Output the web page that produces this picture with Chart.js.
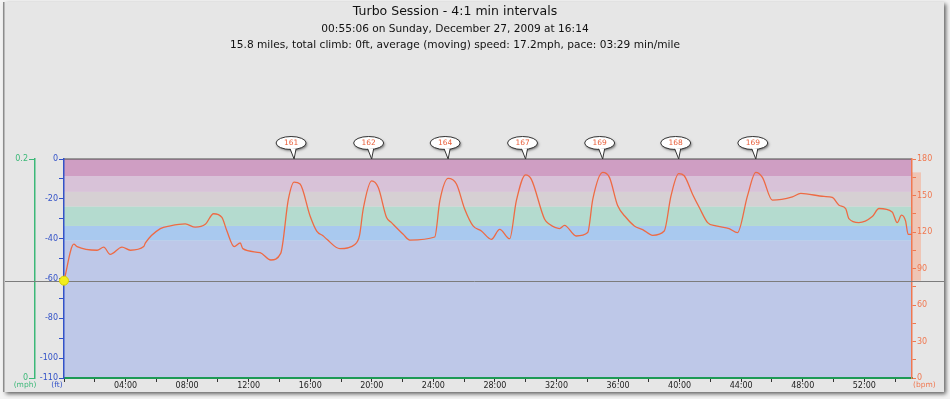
<!DOCTYPE html>
<html><head><meta charset="utf-8">
<script src="https://cdn.jsdelivr.net/npm/chart.js@4.4.1/dist/chart.umd.min.js"></script>
<style>html,body{margin:0;padding:0;background:#f3f3f3;overflow:hidden}#wrap{position:relative;width:950px;height:399px}</style>
</head><body><div id="wrap"><canvas id="c" width="950" height="399"></canvas></div>
<script>
const titleLines = [
  "Turbo Session - 4:1 min intervals",
  "00:55:06 on Sunday, December 27, 2009 at 16:14",
  "15.8 miles, total climb: 0ft, average (moving) speed: 17.2mph, pace: 03:29 min/mile"
];
const unitLabels = ["(mph)", "(ft)", "(bpm)"];
const minutes = [0,0.64,0.85,2.15,2.58,3.0,3.77,4.31,5.18,5.29,6.26,6.91,7.88,8.53,9.18,9.72,10.26,10.58,11.06,11.45,11.62,12.74,13.44,14.08,14.58,14.95,15.34,15.99,16.42,16.85,17.08,17.93,18.9,19.2,19.44,19.99,20.42,20.96,21.28,22.04,22.47,24.09,24.42,24.96,25.5,26.04,26.58,27.12,27.77,28.31,28.96,29.39,29.99,30.36,31.23,31.55,32.2,32.52,33.28,34.03,34.36,35.0,35.44,35.98,36.52,37.06,37.6,38.25,39.0,39.44,39.94,40.3,40.84,41.28,41.82,42.36,43.22,43.76,44.41,44.95,45.38,46.03,47.33,47.87,49.38,49.92,50.36,50.79,51.0,51.65,52.52,52.95,53.81,54.14,54.42,54.68,54.85,55.1];
const heartRate = [80,110,108,105,107.6,101.6,107.6,105,108,111,122.8,125,126.6,124,126.3,135,132,121,108,111,106.3,103,97,102.4,147,161,159.4,133.2,120.8,116.7,114,106.3,109.8,117,138.7,162,156.6,131.9,127.7,118.1,113.4,115.9,145.6,164,159.4,138.7,125,120.8,114,122.2,114.5,145.6,167,163.5,130.5,126.3,122.8,125.5,116.7,119.5,147,169,164.9,141.5,131.9,125,122,117.3,120.8,149.7,168,166.2,151.1,140.1,127.7,125,122.8,119.5,149.7,169,164.9,146.2,148.9,151.7,149.2,148.4,142,139.3,131,127.7,132.7,139.3,136.5,127.7,133.8,129.1,118.1,118.1];
const peakMinutes = [14.95,19.99,24.96,29.99,35.0,39.94,44.95];
const peakLabels = ["161","162","164","167","169","168","169"];
const zoneBounds = [0,113,125,141,153,166,180];
const zoneColors = ["#bec8e8","#a9c9ef","#b4dbcf","#d6d0d3","#d8c2d8","#cf9ec3"];
const durationMin = 55.1;

const FONT = "DejaVu Sans";
const C_FT = "#3352c8", C_MPH = "#3cb878", C_BPM = "#f07850", C_LINE = "#ee6a44";

function fixW(w){ return s => { s.width = w; }; }
function fixH(h){ return s => { s.height = h; }; }

const decor = {
  id: 'decor',
  beforeDraw(chart){
    const {ctx, chartArea:a, scales} = chart;
    const W = chart.width, H = chart.height;
    ctx.save();
    ctx.fillStyle = '#f3f3f3'; ctx.fillRect(0,0,W,H);
    ctx.shadowColor = 'rgba(0,0,0,0.6)'; ctx.shadowBlur = 4; ctx.shadowOffsetX = 2; ctx.shadowOffsetY = 2;
    ctx.fillStyle = '#e6e6e6'; ctx.fillRect(4,2,W-10,H-9);
    ctx.shadowColor = 'transparent'; ctx.shadowBlur = 0; ctx.shadowOffsetX = 0; ctx.shadowOffsetY = 0;
    ctx.fillStyle = '#8c8c8c'; ctx.fillRect(3,2,1.5,H-9);
    const yb = scales.bpm;
    for (let i = 0; i < zoneColors.length; i++){
      const top = yb.getPixelForValue(zoneBounds[i+1]);
      const bot = yb.getPixelForValue(zoneBounds[i]);
      ctx.fillStyle = zoneColors[i];
      ctx.fillRect(a.left, top, a.right - a.left, bot - top);
    }
    ctx.strokeStyle = '#4a4a4a'; ctx.lineWidth = 1.2;
    ctx.beginPath(); ctx.moveTo(a.left, a.top); ctx.lineTo(a.right, a.top); ctx.stroke();
    const mn = Math.min(...heartRate), mx = Math.max(...heartRate);
    ctx.fillStyle = 'rgba(246,170,140,0.55)';
    ctx.fillRect(a.right, yb.getPixelForValue(mx), 9, yb.getPixelForValue(mn) - yb.getPixelForValue(mx));
    ctx.fillStyle = '#111'; ctx.textAlign = 'center'; ctx.textBaseline = 'middle';
    const cx = 455;
    ctx.font = '12.5px "' + FONT + '"'; ctx.fillText(titleLines[0], cx, 12);
    ctx.font = '10.6px "' + FONT + '"'; ctx.fillText(titleLines[1], cx, 29); ctx.fillText(titleLines[2], cx, 45);
    ctx.restore();
  },
  beforeDatasetsDraw(chart){
    const {ctx, scales} = chart;
    const y0 = scales.bpm.getPixelForValue(heartRate[0]);
    ctx.save();
    ctx.strokeStyle = '#7c7c7c'; ctx.lineWidth = 1;
    ctx.beginPath(); ctx.moveTo(5, Math.round(y0)+0.5); ctx.lineTo(chart.width-6, Math.round(y0)+0.5); ctx.stroke();
    ctx.restore();
  },
  afterDraw(chart){
    const {ctx, chartArea:a, scales} = chart;
    ctx.save();
    for (let i = 0; i < peakMinutes.length; i++){
      const px = scales.x.getPixelForValue(peakMinutes[i]);
      const cx = px - 3, cy = a.top - 16;
      ctx.shadowColor = 'rgba(0,0,0,0.5)'; ctx.shadowBlur = 2.5; ctx.shadowOffsetX = 1; ctx.shadowOffsetY = 1.5;
      ctx.fillStyle = '#ffffff'; ctx.strokeStyle = '#333';
      ctx.lineWidth = 1;
      ctx.beginPath();
      ctx.ellipse(cx, cy, 15, 6.5, 0, 0, Math.PI*2);
      ctx.fill();
      ctx.shadowColor = 'transparent';
      ctx.stroke();
      ctx.beginPath();
      ctx.moveTo(px - 4, cy + 5.5); ctx.lineTo(px, a.top); ctx.lineTo(px + 2, cy + 5.5);
      ctx.closePath();
      ctx.fill();
      ctx.beginPath();
      ctx.moveTo(px - 4, cy + 5.8); ctx.lineTo(px, a.top); ctx.lineTo(px + 2, cy + 5.8);
      ctx.stroke();
      ctx.fillStyle = '#e8603c'; ctx.font = '7.5px "' + FONT + '"';
      ctx.textAlign = 'center'; ctx.textBaseline = 'middle';
      ctx.fillText(peakLabels[i], cx, cy);
    }
    ctx.font = '7.5px "' + FONT + '"'; ctx.textBaseline = 'middle'; ctx.textAlign = 'center';
    const yl = a.bottom + 7;
    ctx.fillStyle = C_MPH; ctx.fillText(unitLabels[0], scales.mph.right - 10, yl);
    ctx.fillStyle = C_FT; ctx.fillText(unitLabels[1], scales.ft.right - 7, yl);
    ctx.fillStyle = C_BPM; ctx.textAlign = 'left'; ctx.fillText(unitLabels[2], scales.bpm.left + 1, yl);
    ctx.restore();
  }
};

const tickFont = { family: FONT, size: 8 };

new Chart(document.getElementById('c'), {
  type: 'line',
  data: {
    datasets: [{
      data: minutes.map((m, i) => ({ x: m, y: heartRate[i] })),
      yAxisID: 'bpm', xAxisID: 'x', clip: false,
      borderColor: C_LINE, borderWidth: 1.3, tension: 0.25, cubicInterpolationMode: 'monotone', fill: false,
      pointRadius: ctx => ctx.dataIndex === 0 ? 4.5 : 0,
      pointBackgroundColor: '#f2ee1c', pointBorderColor: '#d8d000', pointBorderWidth: 1
    }]
  },
  options: {
    responsive: false, animation: false, events: [],
    layout: { padding: { left: 5, right: 6, top: 159, bottom: 5 } },
    plugins: { legend: { display: false }, tooltip: { enabled: false }, title: { display: false } },
    scales: {
      x: {
        type: 'linear', position: 'bottom', min: 0, max: durationMin,
        afterFit: fixH(16),
        border: { color: '#1d9a55', width: 2 },
        grid: { drawOnChartArea: false, color: '#333', tickLength: 4 },
        ticks: { stepSize: 2, includeBounds: false, autoSkip: false, maxRotation: 0, padding: -1,
          color: '#222', font: tickFont,
          callback: v => (v > 0 && v % 4 === 0) ? String(v).padStart(2, '0') + ':00' : '' }
      },
      mph: {
        type: 'linear', position: 'left', weight: 1, min: 0, max: 0.2,
        afterFit: fixW(30),
        border: { color: C_MPH, width: 1.5 },
        grid: { drawOnChartArea: false, color: C_MPH, tickLength: 6 },
        ticks: { stepSize: 0.2, color: C_MPH, font: tickFont, padding: 1,
          callback: v => v === 0 ? '0' : (+v).toFixed(1) }
      },
      ft: {
        type: 'linear', position: 'left', weight: 0, min: -110, max: 0,
        afterFit: fixW(29),
        border: { color: C_FT, width: 1.5 },
        grid: { drawOnChartArea: false, color: C_FT, tickLength: 5 },
        ticks: { stepSize: 10, autoSkip: false, color: C_FT, font: tickFont, padding: 1,
          callback: v => (Math.round(v) % 20 === 0 || Math.round(v) === -110) ? String(Math.round(v)) : '' }
      },
      bpm: {
        type: 'linear', position: 'right', min: 0, max: 180,
        afterFit: fixW(32),
        border: { color: C_BPM, width: 1.5 },
        grid: { drawOnChartArea: false, color: C_BPM, tickLength: 4 },
        ticks: { stepSize: 15, autoSkip: false, color: C_BPM, font: tickFont, padding: 1,
          callback: v => (Math.round(v) % 30 === 0) ? String(Math.round(v)) : '' }
      }
    }
  },
  plugins: [decor]
});
</script></body></html>
